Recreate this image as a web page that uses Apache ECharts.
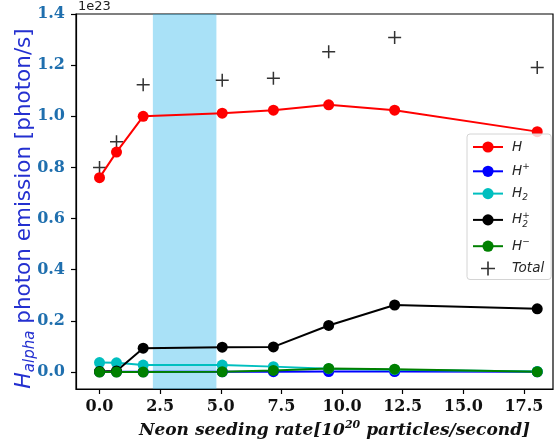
<!DOCTYPE html>
<html>
<head>
<meta charset="utf-8">
<style>
  html, body { margin: 0; padding: 0; background: #fff; }
  #chart { width: 555px; height: 448px; }
</style>
<script src="https://cdn.jsdelivr.net/npm/echarts@6/dist/echarts.min.js"></script>
</head>
<body>
<div id="chart"></div>
<script>
// Neon seeding rate [1e20 particles/s]
const seedingRate = [0, 0.7, 1.8, 5.06, 7.17, 9.45, 12.17, 18.05];

// H-alpha photon emission per channel, in units of 1e23 photon/s
const emissionH      = [0.76, 0.86, 1.00, 1.012, 1.024, 1.045, 1.024, 0.94];
const emissionHplus  = [0.0005, 0.0006, 0.0008, 0.001, 0.0012, 0.0015, 0.0015, 0.001];
const emissionH2     = [0.037, 0.036, 0.027, 0.027, 0.021, 0.013, 0.009, 0.002];
const emissionH2plus = [0.002, 0.004, 0.093, 0.097, 0.098, 0.182, 0.262, 0.247];
const emissionHminus = [0.0, 0.0, 0.0, 0.001, 0.006, 0.014, 0.011, 0.001];
const emissionTotal  = [0.80, 0.90, 1.123, 1.141, 1.149, 1.252, 1.308, 1.191];

// highlighted seeding window
const bandRange = [2.2, 4.82];

// tick values
const xTicks = [0, 2.5, 5, 7.5, 10, 12.5, 15, 17.5];
const yTicks = [0, 0.2, 0.4, 0.6, 0.8, 1.0, 1.2, 1.4];

const pair = (xs, ys) => xs.map((x, i) => [x, ys[i]]);

const plusPath = 'path://M5.3,0H6.7V5.3H12V6.7H6.7V12H5.3V6.7H0V5.3H5.3Z';

function lineSeries(name, values, color) {
  return {
    name: name,
    type: 'line',
    data: pair(seedingRate, values),
    symbol: 'circle',
    symbolSize: 11,
    color: color,
    lineStyle: { width: 2, color: color },
    itemStyle: { color: color },
    emphasis: { disabled: true },
    animation: false
  };
}

const legendLabels = {
  'H': '{i|H}',
  'H+': '{i|H}{sup|+}',
  'H2': '{i|H}{sub|2}',
  'H2+': '{i|H}{subz|2}{sup|+}',
  'H-': '{i|H}{sup|\u2212}',
  'Total': '{i|Total}'
};

const chart = echarts.init(document.getElementById('chart'), null, { renderer: 'canvas' });

chart.setOption({
  animation: false,
  backgroundColor: '#ffffff',
  grid: {
    left: 76, right: 2, top: 14, bottom: 59,
    containLabel: false,
    outerBoundsMode: 'none',
    show: true, borderColor: '#000', borderWidth: 1.2, backgroundColor: 'transparent'
  },
  graphic: [
    {
      type: 'text', left: 78, top: 0,
      style: { text: '1e23', font: '13px "DejaVu Sans"', fill: '#222' }
    }
  ],
  legend: {
    orient: 'vertical',
    left: 467, top: 134,
    padding: [6, 7, 4, 5],
    itemWidth: 30, itemHeight: 14, itemGap: 8.3,
    backgroundColor: 'rgba(255,255,255,0.8)',
    borderColor: '#d4d4d4', borderWidth: 1, borderRadius: 3,
    data: ['H', 'H+', 'H2', 'H2+', 'H-', 'Total'],
    formatter: n => legendLabels[n],
    textStyle: {
      color: '#262626',
      rich: {
        i: { fontFamily: 'DejaVu Sans', fontStyle: 'italic', fontSize: 13.5, lineHeight: 18, padding: [0, 0, 0, 4] },
        sup: { fontFamily: 'DejaVu Sans', fontStyle: 'italic', fontSize: 9, lineHeight: 9, verticalAlign: 'top' },
        sub: { fontFamily: 'DejaVu Sans', fontStyle: 'italic', fontSize: 9, lineHeight: 9, verticalAlign: 'bottom' },
        subz: { fontFamily: 'DejaVu Sans', fontStyle: 'italic', fontSize: 9, lineHeight: 9, verticalAlign: 'bottom', width: 0 }
      }
    }
  },
  xAxis: {
    type: 'value',
    min: -0.97, max: 18.7,
    name: 'Neon seeding rate[{n|10}{s|20}{b| particles/second]}',
    nameLocation: 'middle',
    nameGap: 31,
    nameTextStyle: {
      fontFamily: 'DejaVu Serif', fontWeight: 'bold', fontStyle: 'italic',
      fontSize: 17, color: '#111', padding: [0, 0, 0, 40],
      rich: {
        n: { fontFamily: 'DejaVu Serif', fontWeight: 'bold', fontSize: 17, color: '#111', lineHeight: 22 },
        s: { fontFamily: 'DejaVu Serif', fontWeight: 'bold', fontSize: 11, color: '#111', lineHeight: 10, verticalAlign: 'top' },
        b: { fontFamily: 'DejaVu Serif', fontWeight: 'bold', fontStyle: 'italic', fontSize: 17, color: '#111', lineHeight: 22 }
      }
    },
    axisLine: { show: true, onZero: false, lineStyle: { color: '#000', width: 1.2 } },
    axisTick: { show: true, length: 5, customValues: xTicks, lineStyle: { color: '#000', width: 1.2 } },
    axisLabel: {
      customValues: xTicks, margin: 10,
      formatter: v => v.toFixed(1),
      fontFamily: 'DejaVu Serif', fontWeight: 'bold', fontSize: 16, color: '#111'
    },
    splitLine: { show: false }
  },
  yAxis: {
    type: 'value',
    min: -0.0665, max: 1.4,
    name: '{h|H}{sub|alpha}{t| photon emission [photon/s]}',
    nameLocation: 'middle',
    nameRotate: 90,
    nameGap: 38,
    nameMoveOverlap: false,
    nameTextStyle: {
      color: '#2430d0', padding: [0, 14, 0, 0],
      rich: {
        h: { fontFamily: 'DejaVu Sans', fontStyle: 'italic', fontSize: 22, color: '#2430d0', lineHeight: 28 },
        sub: { fontFamily: 'DejaVu Sans', fontStyle: 'italic', fontSize: 15, color: '#2430d0', lineHeight: 15, verticalAlign: 'bottom' },
        t: { fontFamily: 'DejaVu Sans', fontSize: 21.5, color: '#2430d0', lineHeight: 28 }
      }
    },
    axisLine: { show: true, onZero: false, lineStyle: { color: '#000', width: 1.2 } },
    axisTick: { show: true, length: 5, customValues: yTicks, lineStyle: { color: '#000', width: 1.2 } },
    axisLabel: {
      customValues: yTicks, margin: 11,
      formatter: v => v.toFixed(1),
      fontFamily: 'DejaVu Serif', fontWeight: 'bold', fontSize: 16, color: '#1f6fae'
    },
    splitLine: { show: false }
  },
  series: [
    lineSeries('H', emissionH, '#ff0000'),
    lineSeries('H+', emissionHplus, '#0000ff'),
    lineSeries('H2', emissionH2, '#00bfbf'),
    lineSeries('H2+', emissionH2plus, '#000000'),
    lineSeries('H-', emissionHminus, '#008000'),
    {
      name: 'Total',
      type: 'scatter',
      data: pair(seedingRate, emissionTotal),
      symbol: plusPath,
      symbolSize: 13,
      symbolKeepAspect: true,
      color: '#000',
      itemStyle: { color: '#000' },
      emphasis: { disabled: true }
    },
    {
      name: 'band',
      type: 'line',
      data: [],
      z: 3,
      silent: true,
      markArea: {
        silent: true,
        itemStyle: { color: 'rgba(40,180,235,0.4)' },
        data: [[{ xAxis: bandRange[0] }, { xAxis: bandRange[1] }]]
      }
    }
  ]
});
</script>
</body>
</html>
